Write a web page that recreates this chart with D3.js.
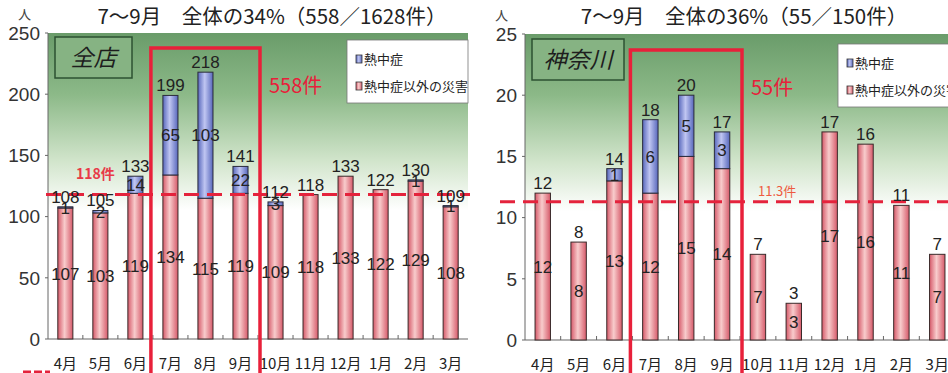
<!DOCTYPE html>
<html><head><meta charset="utf-8">
<script src="https://cdn.jsdelivr.net/npm/d3@7"></script>
<style>
body{margin:0;background:#fff;}
svg{display:block;}
.num{font-family:"Liberation Sans Narrow","Liberation Sans",Arial,sans-serif;fill:#222;}
.jp{font-family:"Noto Sans CJK JP",sans-serif;}
</style></head><body>
<svg id="c" width="948" height="373"></svg>
<script>
const months = ["4月","5月","6月","7月","8月","9月","10月","11月","12月","1月","2月","3月"];

// 全店
const allHeat  = [1,2,14,65,103,22,3,0,0,0,1,1];
const allOther = [107,103,119,134,115,119,109,118,133,122,129,108];
const allTicks = [0,50,100,150,200,250];
const allAvg = 118;

// 神奈川
const kanHeat  = [0,0,1,6,5,3,0,0,0,0,0,0];
const kanOther = [12,8,13,12,15,14,7,3,17,16,11,7];
const kanTicks = [0,5,10,15,20,25];
const kanAvg = 11.3;

const legendLabels = ["熱中症","熱中症以外の災害"];

const svg = d3.select("#c");
const defs = svg.append("defs");

function hGrad(id, edge, mid){
  const g = defs.append("linearGradient").attr("id",id).attr("x1","0").attr("x2","1").attr("y1","0").attr("y2","0");
  g.append("stop").attr("offset","0%").attr("stop-color",edge);
  g.append("stop").attr("offset","45%").attr("stop-color",mid);
  g.append("stop").attr("offset","100%").attr("stop-color",edge);
}
hGrad("gPink","#d65a6a","#f8cccc");
hGrad("gBlue","#5868bc","#c0c6f2");
const bg = defs.append("linearGradient").attr("id","gBg").attr("x1","0").attr("x2","0").attr("y1","0").attr("y2","1");
bg.append("stop").attr("offset","0%").attr("stop-color","#6a9c6a");
bg.append("stop").attr("offset","20%").attr("stop-color","#8cb988");
bg.append("stop").attr("offset","42%").attr("stop-color","#d2e5cc");
bg.append("stop").attr("offset","58%").attr("stop-color","#ffffff");
bg.append("stop").attr("offset","100%").attr("stop-color","#ffffff");

function drawChart(o){
  const g = svg.append("g");
  const x = d3.scaleBand().domain(months).range([o.x0,o.x1]).paddingInner(0.57).paddingOuter(0.28);
  const y = d3.scaleLinear().domain([0,o.max]).range([o.yb,o.yt]);

  // background
  g.append("rect").attr("x",o.x0).attr("y",y(o.max)).attr("width",o.x1-o.x0).attr("height",y(0)-y(o.max)).attr("fill","url(#gBg)");

  // axes
  g.append("line").attr("x1",o.x0).attr("x2",o.x0).attr("y1",y(o.max)).attr("y2",y(0)).attr("stroke","#666").attr("stroke-width",1);
  g.append("line").attr("x1",o.x0).attr("x2",o.x1).attr("y1",y(0)).attr("y2",y(0)).attr("stroke","#666").attr("stroke-width",1.2);
  months.forEach((m,i)=>{ if(i>0){ const xx = x(m)-x.step()*x.paddingInner()/2; g.append("line").attr("x1",xx).attr("x2",xx).attr("y1",y(0)).attr("y2",y(0)-4).attr("stroke","#666");}});
  o.ticks.forEach(t=>{
    g.append("text").attr("class","num").attr("x",o.x0-8).attr("y",y(t)).attr("dy","0.36em").attr("text-anchor","end").attr("font-size",19).style("fill","#333").text(t);
    g.append("line").attr("x1",o.x0-3).attr("x2",o.x0).attr("y1",y(t)).attr("y2",y(t)).attr("stroke","#666");
  });
  g.append("text").attr("class","jp").attr("x",o.x0-30).attr("y",y(o.max)-14).attr("font-size",13).attr("fill","#444").text("人");

  // x labels
  months.forEach(m=>{
    g.append("text").attr("class","jp").attr("x",x(m)+x.bandwidth()/2).attr("y",o.yb+30).attr("text-anchor","middle").attr("font-size",15).attr("fill","#222").text(m);
  });

  // name box
  g.append("rect").attr("x",o.nb[0]).attr("y",o.nb[1]).attr("width",o.nb[2]).attr("height",o.nb[3]).attr("fill","#86b383").attr("stroke","#2d5232").attr("stroke-width",1.5);
  g.append("text").attr("class","jp").attr("x",o.nb[0]+o.nb[2]/2).attr("y",o.nb[1]+o.nb[3]/2).attr("dy","0.36em").attr("text-anchor","middle").attr("font-size",23).attr("font-style","italic").attr("fill","#1e1e1e").text(o.name);

  // bars
  months.forEach((m,i)=>{
    const bx = x(m), bw = x.bandwidth();
    const oth = o.other[i], ht = o.heat[i], tot = oth+ht;
    g.append("rect").attr("x",bx).attr("y",y(oth)).attr("width",bw).attr("height",y(0)-y(oth)).attr("fill","url(#gPink)").attr("stroke","#3a2a2a").attr("stroke-width",1);
    if(ht>0){
      g.append("rect").attr("x",bx).attr("y",y(tot)).attr("width",bw).attr("height",y(oth)-y(tot)).attr("fill","url(#gBlue)").attr("stroke","#2a2a3a").attr("stroke-width",1);
    }
  });

  // average dashed line
  g.append("line").attr("x1",o.dash[0]).attr("x2",o.dash[1]).attr("y1",y(o.avg)).attr("y2",y(o.avg)).attr("stroke","#e4233c").attr("stroke-width",3).attr("stroke-dasharray","15,8");
  g.append("text").attr("class","jp").attr("x",o.avgLab[0]).attr("y",y(o.avg)-o.avgLab[1]).attr("font-size",o.avgLab[2]).attr("font-weight",o.avgLab[4]).attr("fill",o.avgLab[3]).text(o.avgText);

  // labels
  months.forEach((m,i)=>{
    const cx = x(m)+x.bandwidth()/2;
    const oth = o.other[i], ht = o.heat[i], tot = oth+ht;
    g.append("text").attr("class","num").attr("x",cx).attr("y",y(tot)-4).attr("text-anchor","middle").attr("font-size",17).text(tot);
    g.append("text").attr("class","num").attr("x",cx).attr("y",y(oth/2)).attr("dy","0.36em").attr("text-anchor","middle").attr("font-size",17).text(oth);
    if(ht>0){
      g.append("text").attr("class","num").attr("x",cx).attr("y",y(oth+ht/2)).attr("dy","0.36em").attr("text-anchor","middle").attr("font-size",17).text(ht);
    }
  });

  // highlight rectangle (Jul-Sep)
  const rx0 = x("7月") - x.step()*x.paddingInner()/2 - 2;
  const rx1 = x("9月") + x.bandwidth() + x.step()*x.paddingInner()/2 + 2;
  g.append("rect").attr("x",rx0).attr("y",o.hiTop).attr("width",rx1-rx0).attr("height",400).attr("fill","none").attr("stroke","#e8203a").attr("stroke-width",3.5);
  g.append("text").attr("class","jp").attr("x",rx1+9).attr("y",o.hiTop+45).attr("font-size",20).attr("fill","#e8203a").text(o.hiText);

  // legend
  const L = o.leg;
  g.append("rect").attr("x",L[0]).attr("y",L[1]).attr("width",L[2]).attr("height",L[3]).attr("fill","#fff").attr("stroke","#777").attr("stroke-width",0.8);
  const fills = ["url(#gBlue)","url(#gPink)"];
  legendLabels.forEach((t,k)=>{
    const yy = L[1]+19+k*27;
    g.append("rect").attr("x",L[0]+9).attr("y",yy-4).attr("width",6).attr("height",8).attr("fill",fills[k]).attr("stroke","#333").attr("stroke-width",0.8);
    g.append("text").attr("class","jp").attr("x",L[0]+17).attr("y",yy).attr("dy","0.36em").attr("font-size",13).attr("fill","#222").text(t);
  });

  // title
  g.append("text").attr("class","jp").attr("x",o.titleX).attr("y",17).attr("dy","0.36em").attr("text-anchor","middle").attr("font-size",20.5).attr("fill","#222").text(o.title);
}

drawChart({x0:48,x1:468,yb:339,yt:33,max:250,ticks:allTicks,heat:allHeat,other:allOther,
  avg:allAvg,avgText:"118件",avgLab:[76,16,14,"#e83a48","bold"],dash:[46,470],
  name:"全店",nb:[55,37,77,41],hiTop:48,hiText:"558件",leg:[347,40,121,63],
  title:"7～9月　全体の34%（558／1628件）",titleX:272});

drawChart({x0:525,x1:955,yb:340,yt:34,max:25,ticks:kanTicks,heat:kanHeat,other:kanOther,
  avg:kanAvg,avgText:"11.3件",avgLab:[758,6,13,"#ee5a40","normal"],dash:[500,948],
  name:"神奈川",nb:[532,39,92,41],hiTop:50,hiText:"55件",leg:[838,44,130,63],
  title:"7～9月　全体の36%（55／150件）",titleX:744});

// partial dashed legend mark at bottom-left
svg.append("line").attr("x1",23).attr("x2",50).attr("y1",372).attr("y2",372).attr("stroke","#e4233c").attr("stroke-width",3).attr("stroke-dasharray","8,3");
</script>
</body></html>
